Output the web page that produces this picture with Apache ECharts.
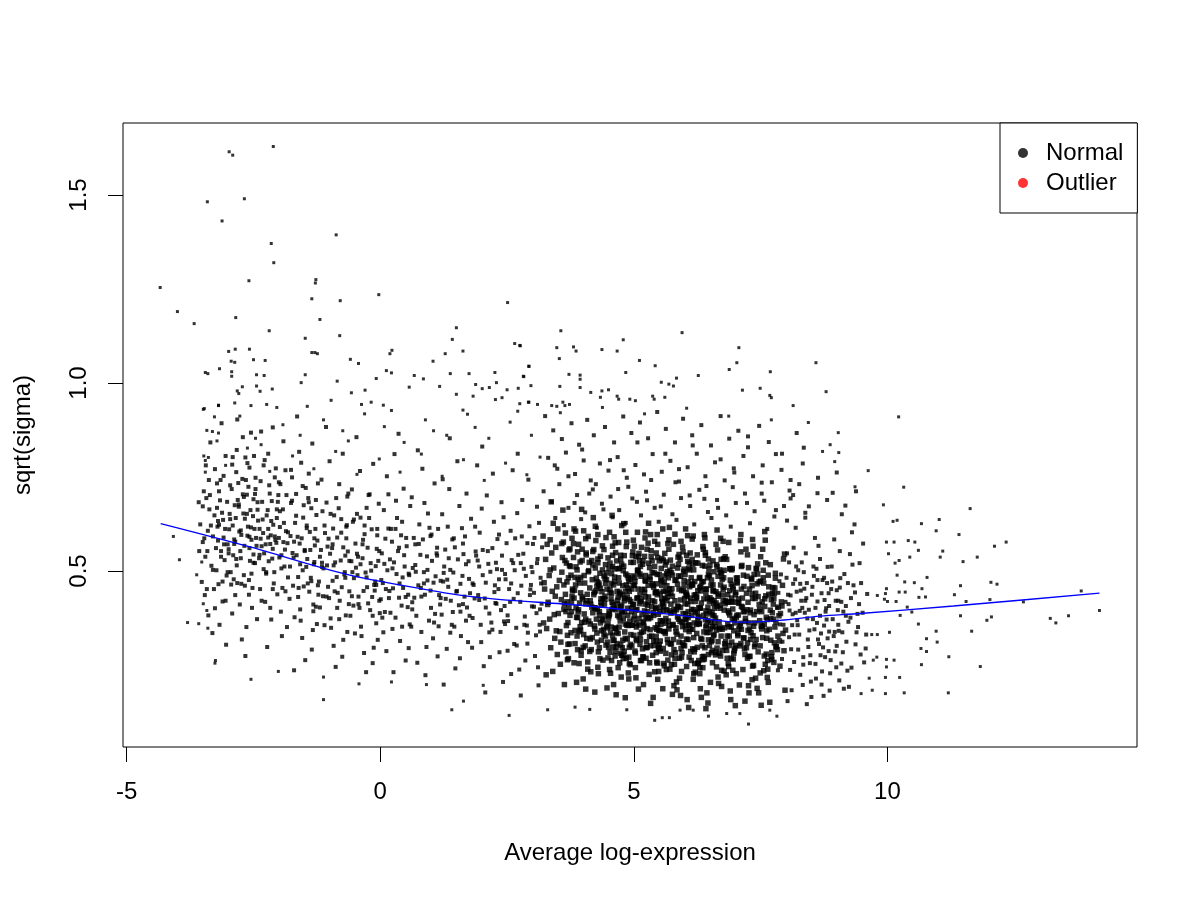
<!DOCTYPE html>
<html>
<head>
<meta charset="utf-8">
<title>sqrt(sigma) vs Average log-expression</title>
<script src="https://cdn.jsdelivr.net/npm/echarts@6/dist/echarts.min.js"></script>
<style>html,body{margin:0;background:#fff}</style>
</head>
<body>
<div id="main" style="width:1200px;height:900px;"></div>
<script>
// axis ticks
var xTicks = [-5, 0, 5, 10];
var yTicks = [0.5, 1.0, 1.5];

// points, grouped by region (x = average log-expression, y = sqrt(sigma))
var highPts = [[-2.11,1.629],[-2.98,1.615],[-2.91,1.606],[-3.41,1.482],[-2.68,1.490],[-3.12,1.431],[-0.87,1.394],[-2.15,1.371],[-2.10,1.320],[-4.34,1.254],[-2.59,1.272],[-1.27,1.275],[-1.28,1.266],[-4.00,1.190],[-3.67,1.158],[-1.35,1.224],[-0.79,1.219],[-0.03,1.235],[2.51,1.214],[-2.85,1.174],[-1.19,1.169],[-2.19,1.139],[-1.48,1.119],[-0.80,1.126],[1.50,1.147],[1.42,1.116],[1.63,1.085],[2.65,1.105],[2.76,1.099],[-2.99,1.084],[-2.86,1.090],[-2.58,1.090],[-1.35,1.081],[-1.29,1.081],[-1.24,1.078],[0.19,1.078],[0.23,1.087],[1.28,1.078],[-2.94,1.058],[-2.87,1.055],[-2.50,1.062],[-2.27,1.060],[-0.59,1.063],[-0.43,1.052],[1.04,1.058],[2.93,1.045],[-3.45,1.028],[-3.40,1.025],[-3.17,1.038],[-2.93,1.030],[-2.93,1.018],
  [-2.44,1.022],[-2.29,1.020],[-2.72,.990],[-2.82,.979],[-2.79,.972],[-2.44,.992],[-2.37,.978],[-2.13,.984],[-1.56,1.001],[-1.48,1.022],[-0.85,1.005],[-0.57,.974],[-0.30,.981],[-0.08,1.012],[0.12,1.033],[0.22,1.027],[0.57,.989],[0.67,1.020],[0.85,1.011],[1.17,.991],[1.38,1.025],[1.75,1.025],[1.88,.996],[2.01,.985],[2.15,.988],[2.26,1.028],[2.29,1.001],[2.50,.982],[2.72,.986],[2.83,1.017],[2.97,.993],[1.83,.965],[1.50,.970],[2.27,.956],[2.40,.961],[-2.87,.947],[-2.55,.940],[-2.24,.943],[-2.04,.935],[-3.19,.940],[-3.47,.932],[-0.97,.954],[-0.37,.943],[-0.18,.949],[0.06,.941],[1.63,.928],[2.93,.949],[3.10,.943],
  [3.56,1.139],[5.95,1.134],[2.75,1.100],[3.48,1.094],[3.81,1.096],[3.86,1.085],[4.37,1.089],[4.67,1.085],[4.79,1.115],[3.53,1.065],[5.11,1.060],[5.42,1.046],[2.93,1.044],[7.07,1.094],[7.03,1.054],[6.88,1.036],[8.59,1.054],[7.69,1.030],[8.79,.977],[6.27,1.020],[5.84,1.013],[5.78,.992],[5.69,.997],[5.54,1.002],[4.84,1.028],[3.72,1.023],[3.94,1.021],[3.94,1.010],[2.82,1.018],[3.54,.991],[3.94,.988],[4.15,.975],[4.37,.979],[4.50,.982],[4.34,.962],[7.14,.981],[7.49,.986],[7.68,.967],[7.71,.961],[8.14,.940],[4.67,.965],[4.70,.957],[4.92,.957],[5.03,.953],[5.37,.965],[5.40,.957],[5.61,.962],[2.75,.945],[2.92,.949],[3.38,.940],[3.48,.938],[3.60,.949],[3.64,.940],[3.73,.943]];

var edgePts = [[-4.08,.592],[-3.96,.530],[-3.62,.490],[-3.80,.363],[-3.58,.360],[-3.40,.348],[-3.26,.255],[-3.25,.262],[-3.49,.413],[-3.42,.395],[-3.52,.524],[-3.45,.794],[-3.45,.763],[-3.48,.806],[-3.39,.802],[-3.42,.874],[-3.19,.867],[-3.49,.930],[-3.27,.910],[-3.19,.941]];

var leftPts = [[-3.55,.624],[-3.48,.712],[-3.41,.553],[-3.52,.471],[-3.37,.664],[-3.44,.781],[-3.30,.592],[-3.58,.683],[-3.33,.514],[-3.46,.436],[-3.22,.733],[-3.27,.648],[-3.39,.382],[-3.24,.561],[-3.50,.577],[-3.35,.842],[-3.28,.452],[-3.43,.694],[-3.21,.618],[-3.31,.335],[-3.57,.553],[-3.26,.771],[-3.40,.607],[-3.23,.502],[-3.36,.702],[-3.12,.655],[-3.08,.571],[-3.15,.742],[-3.03,.488],[-3.18,.623],[-3.05,.806],[-3.11,.419],[-3.14,.538],[-3.02,.684],[-3.17,.357],[-3.09,.753],[-3.06,.612],[-3.19,.465],[-3.01,.571],[-3.13,.893],[-3.04,.304],[-3.16,.688],[-3.07,.529],[-3.10,.636],[-3.20,.581],
  [-2.97,.652],[-2.93,.718],[-2.88,.584],[-2.95,.497],[-2.84,.763],[-2.91,.621],[-2.86,.436],[-2.81,.689],[-2.99,.558],[-2.78,.605],[-2.83,.822],[-2.75,.534],[-2.92,.387],[-2.79,.671],[-2.72,.745],[-2.89,.478],[-2.74,.596],[-2.70,.653],[-2.96,.728],[-2.77,.411],[-2.68,.567],[-2.66,.802],[-2.85,.641],[-2.63,.703],[-2.90,.542],[-2.61,.618],[-2.69,.489],[-2.58,.775],[-2.64,.351],[-2.56,.662],[-2.82,.903],[-2.54,.583],[-2.60,.724],[-2.52,.455],[-2.67,.639],[-2.50,.691],[-2.57,.527],[-2.48,.612],[-2.73,.318],[-2.46,.748],[-2.55,.868],[-2.44,.567],[-2.62,.594],[-2.42,.683],[-2.53,.402],[-2.47,.521],[-2.71,.856],[-2.41,.634],[-2.98,.611],[-2.87,.675],[-2.76,.553],[-2.65,.742],[-2.59,.476],[-2.49,.806],[-2.45,.588],[-2.94,.464],[-2.80,.734],[-2.51,.646],[-2.43,.372],[-2.69,.697],[-2.58,.561],[-2.83,.515],[-2.62,.787],[-2.47,.705],[-2.91,.803],[-2.74,.466],[-2.55,.616],[-2.86,.578],[-2.66,.274],[-2.50,.544],
  [-2.38,.612],[-2.33,.684],[-2.29,.547],[-2.36,.739],[-2.25,.493],[-2.31,.601],[-2.22,.662],[-2.27,.418],[-2.19,.728],[-2.34,.566],[-2.16,.595],[-2.21,.812],[-2.13,.533],[-2.24,.648],[-2.10,.467],[-2.18,.706],[-2.07,.583],[-2.15,.371],[-2.04,.641],[-2.12,.559],[-2.01,.702],[-2.09,.497],[-1.98,.617],[-2.06,.773],[-1.95,.542],[-2.03,.438],[-1.92,.664],[-2.00,.588],[-1.89,.512],[-1.97,.731],[-1.86,.606],[-1.94,.327],[-1.83,.574],[-1.91,.845],[-2.37,.452],[-2.28,.795],[-2.20,.526],[-2.11,.623],[-2.02,.684],[-1.93,.455],[-1.85,.702],[-2.35,.871],[-2.26,.571],[-2.17,.402],[-2.08,.749],[-1.99,.536],[-1.90,.628],[-1.82,.483],[-2.32,.637],[-2.23,.298],[-2.14,.686],[-2.05,.575],[-1.96,.392],[-1.88,.557],[-2.39,.534],[-2.30,.505],[-2.21,.589],[-1.87,.768],[-1.84,.351],[-2.12,.882],
  [-1.77,.593],[-1.52,.642],[-1.31,.518],[-1.66,.705],[-1.43,.467],[-1.24,.581],[-1.71,.536],[-1.58,.398],[-1.36,.667],[-1.49,.553],[-1.28,.612],[-1.62,.484],[-1.41,.759],[-1.79,.426],[-1.55,.587],[-1.33,.343],[-1.68,.628],[-1.46,.511],[-1.21,.472],[-1.74,.687],[-1.38,.556],[-1.60,.817],[-1.27,.405],[-1.51,.675],[-1.65,.542],[-1.35,.291],[-1.45,.614],[-1.72,.461],[-1.23,.733],[-1.57,.368],[-1.30,.524],[-1.63,.591],[-1.40,.445],[-1.76,.769],[-1.48,.263],[-1.26,.649],[-1.53,.502],[-1.69,.377],[-1.34,.839],[-1.59,.573],[-1.42,.694],[-1.22,.437],[-1.64,.911],[-1.37,.482],[-1.54,.322],[-1.29,.568],[-1.73,.548],[-1.47,.721],[-1.25,.359],[-1.61,.455],[-1.39,.604],[-1.56,.788],[-1.32,.411],[-1.70,.236],[-1.44,.532],
  [-1.17,.556],[-0.93,.613],[-0.71,.491],[-1.06,.682],[-0.84,.442],[-0.64,.552],[-1.12,.507],[-0.98,.374],[-0.77,.638],[-0.89,.523],[-0.67,.587],[-1.03,.458],[-0.81,.731],[-1.19,.403],[-0.95,.561],[-0.73,.317],[-1.09,.601],[-0.86,.484],[-0.61,.446],[-1.14,.659],[-0.78,.528],[-1.00,.792],[-0.68,.382],[-0.91,.648],[-1.05,.515],[-0.75,.272],[-0.85,.589],[-1.13,.433],[-0.63,.706],[-0.97,.349],[-0.70,.497],[-1.04,.565],[-0.80,.421],[-1.16,.743],[-0.88,.245],[-0.66,.622],[-0.94,.474],[-1.10,.356],[-0.74,.812],[-0.99,.546],[-0.82,.667],[-0.62,.412],[-1.07,.883],[-0.76,.457],[-0.92,.301],[-0.69,.541],[-1.15,.522],[-0.87,.694],[-0.65,.338],[-1.01,.428],
  [-0.57,.526],[-0.34,.583],[-0.12,.463],[-0.46,.652],[-0.24,.414],[-0.04,.527],[-0.52,.481],[-0.38,.352],[-0.17,.611],[-0.29,.496],[-0.07,.559],[-0.43,.432],[-0.21,.704],[-0.59,.381],[-0.35,.534],[-0.13,.296],[-0.49,.573],[-0.26,.457],[-0.02,.421],[-0.54,.631],[-0.18,.501],[-0.40,.766],[-0.08,.361],[-0.31,.621],[-0.45,.489],[-0.15,.255],[-0.25,.562],[-0.53,.408],[-0.03,.679],[-0.37,.327],[-0.10,.472],[-0.44,.538],[-0.20,.396],[-0.56,.717],[-0.28,.231],[-0.06,.595],[-0.33,.447],[-0.50,.334],[-0.14,.785],[-0.39,.518],[-0.22,.641],[-0.01,.388],[-0.47,.856],[-0.16,.431],[-0.32,.282],[-0.09,.513],[-0.55,.497],[-0.27,.668],[-0.05,.317],[-0.41,.402],
  [-3.47,.587],[-2.63,.652],[-1.78,.512],[-0.94,.571],[-0.11,.448],[-3.22,.668],[-2.38,.543],[-1.53,.726],[-0.69,.482],[-3.05,.421],[-2.21,.612],[-1.36,.473],[-0.52,.637],[-3.38,.742],[-2.54,.493],[-1.70,.578],[-0.85,.402],[-0.02,.553],[-3.14,.553],[-2.30,.781],[-1.45,.621],[-0.61,.527],[-2.96,.638],[-2.12,.452],[-1.27,.689],[-0.43,.412],[-3.30,.503],[-2.46,.718],[-1.62,.431],[-0.77,.602],[-2.88,.572],[-2.04,.664],[-1.19,.538],[-0.35,.571],[-3.42,.452],[-2.58,.591],[-1.74,.749],[-0.90,.446],[-0.06,.612],[-3.18,.712],[-2.34,.421],[-1.49,.556],[-0.65,.698],[-3.01,.497],[-2.17,.572],[-1.32,.393],[-0.48,.509],[-2.79,.677],[-1.95,.507],[-1.10,.621],[-0.27,.483],[-3.34,.621],[-2.50,.522],[-1.66,.647],[-0.81,.372],[-2.92,.783],[-2.08,.592],[-1.23,.462],[-0.39,.642],[-3.26,.401],[-2.42,.663],[-1.58,.518],[-0.73,.563],[-3.09,.589],[-2.25,.497],[-1.41,.683],[-0.56,.433],[-2.84,.532],[-2.00,.736],[-1.15,.511],[-0.31,.598],[-3.50,.672],[-2.67,.461],[-1.82,.603],[-0.98,.652],[-0.15,.381],[-3.11,.472],[-2.71,.704],[-1.87,.446],[-1.02,.586],[-0.19,.521],[-2.75,.608],[-1.91,.577],[-1.06,.432],[-0.23,.702],[-3.45,.538],[-2.59,.437],[-1.76,.681],[-0.92,.515],[-0.08,.463],[-2.99,.547],[-2.15,.633],[-1.30,.587],[-0.46,.546],[-3.20,.633],[-2.36,.586],[-1.51,.459],[-0.67,.618],[-2.82,.468],[-1.98,.659]];

var midPts = [[0.03,.547],[0.21,.612],[0.44,.483],[0.09,.391],[0.52,.566],[0.16,.704],[0.37,.429],[0.27,.523],[0.58,.358],[0.05,.468],[0.33,.641],[0.48,.512],[0.12,.287],[0.25,.454],[0.41,.595],[0.55,.437],[0.19,.531],[0.07,.662],[0.30,.376],[0.46,.719],[0.14,.502],[0.39,.314],[0.23,.578],[0.57,.489],[0.01,.425],[0.35,.553],[0.50,.262],[0.18,.447],[0.43,.631],[0.10,.586],[0.28,.811],[0.54,.404],[0.32,.492],[0.06,.337],[0.47,.542],[0.20,.389],[0.38,.467],[0.59,.673],[0.13,.752],[0.26,.231],[0.42,.408],[0.51,.588],[0.08,.519],[0.36,.865],[0.24,.346],[0.45,.455],[0.16,.613],[0.56,.295],[0.31,.687],[0.02,.476],
  [0.64,.508],[0.88,.437],[1.12,.562],[0.71,.381],[0.97,.615],[1.05,.469],[0.79,.543],[0.62,.696],[1.18,.411],[0.91,.298],[0.75,.462],[1.02,.527],[0.84,.584],[1.15,.353],[0.67,.429],[0.94,.653],[1.09,.486],[0.81,.338],[0.69,.571],[1.00,.402],[1.14,.612],[0.86,.497],[0.73,.256],[0.99,.448],[1.07,.733],[0.77,.624],[0.63,.417],[0.92,.539],[1.19,.474],[0.83,.772],[1.04,.321],[0.70,.498],[0.96,.368],[1.11,.547],[0.89,.223],[0.66,.588],[1.16,.436],[0.80,.455],[1.01,.597],[0.74,.821],[0.93,.475],[1.08,.386],[0.61,.352],[0.87,.681],[1.13,.273],
  [1.24,.472],[1.53,.531],[1.71,.403],[1.33,.618],[1.46,.352],[1.62,.487],[1.28,.557],[1.77,.441],[1.39,.421],[1.56,.673],[1.21,.384],[1.67,.592],[1.44,.496],[1.31,.293],[1.74,.526],[1.50,.445],[1.36,.718],[1.59,.327],[1.26,.512],[1.69,.368],[1.42,.584],[1.55,.409],[1.79,.639],[1.34,.458],[1.48,.241],[1.64,.545],[1.22,.651],[1.38,.503],[1.58,.466],[1.73,.311],[1.29,.426],[1.52,.792],[1.66,.432],[1.41,.357],[1.61,.614],[1.25,.198],[1.47,.563],[1.75,.479],[1.35,.534],[1.57,.268],[1.70,.706],[1.43,.391],[1.23,.744],[1.63,.412],[1.37,.853],
  [1.84,.463],[2.13,.519],[2.38,.396],[1.96,.602],[2.21,.344],[2.47,.478],[1.89,.541],[2.06,.427],[2.31,.585],[1.99,.311],[2.26,.462],[2.43,.643],[1.82,.375],[2.17,.498],[2.02,.556],[2.35,.284],[1.93,.436],[2.28,.522],[2.10,.701],[2.45,.407],[1.87,.618],[2.19,.363],[2.40,.541],[2.04,.247],[1.95,.512],[2.33,.452],[2.15,.387],[2.49,.574],[1.81,.296],[2.24,.631],[2.08,.469],[2.37,.338],[1.91,.781],[2.29,.413],[2.00,.666],[2.42,.205],[2.12,.553],[1.86,.427],[2.22,.759],[2.46,.492],[1.98,.357],[2.34,.597],[2.07,.177],[2.25,.444],[1.92,.528],[2.39,.683],[2.16,.271],[2.44,.366],[2.01,.831],[2.30,.505],
  [2.54,.452],[2.83,.506],[3.08,.388],[2.66,.587],[2.91,.336],[3.17,.467],[2.59,.529],[2.76,.418],[3.01,.572],[2.69,.302],[2.96,.451],[3.13,.628],[2.52,.367],[2.87,.487],[2.72,.543],[3.05,.274],[2.63,.426],[2.98,.511],[2.80,.689],[3.15,.398],[2.57,.607],[2.89,.355],[3.10,.532],[2.74,.238],[2.65,.502],[3.03,.442],[2.85,.379],[3.19,.563],[2.51,.288],[2.94,.619],[2.78,.461],[3.07,.329],[2.61,.768],[2.99,.406],[2.70,.654],[3.12,.196],[2.82,.546],[2.56,.418],[2.92,.743],[3.16,.482],[2.68,.349],[3.04,.588],[2.77,.169],[2.95,.436],[2.62,.521],[3.09,.671],[2.86,.262],[3.14,.357],[2.71,.812],[3.00,.497],[2.58,.226],[2.90,.307],[3.11,.244],[2.79,.592],[3.18,.413],
  [0.11,.452],[0.93,.503],[1.76,.381],[2.58,.467],[0.37,.562],[1.19,.428],[2.02,.489],[2.84,.357],[0.63,.398],[1.45,.587],[2.27,.415],[3.09,.521],[0.24,.507],[1.06,.363],[1.88,.552],[2.71,.441],[0.50,.431],[1.32,.477],[2.15,.337],[2.97,.463],[0.76,.572],[1.58,.392],[2.40,.503],[0.04,.376],[0.86,.467],[1.69,.518],[2.51,.382],[0.30,.612],[1.12,.541],[1.95,.423],[2.77,.521],[0.56,.493],[1.38,.336],[2.21,.561],[3.03,.405],[0.17,.428],[0.99,.593],[1.82,.467],[2.64,.306],[0.43,.352],[1.25,.495],[2.08,.403],[2.90,.574],[0.69,.516],[1.51,.447],[2.34,.478],[3.15,.339],[0.81,.432],[1.63,.573],[2.46,.359]];

var lowPts = [[-1.12,.158],[-0.42,.200],[1.64,.154],[1.41,.131],[-2.55,.212],[-2.01,.233],[-1.12,.218],[0.22,.205],[0.91,.198],[2.03,.196],[2.54,.116],[3.30,.131],[5.41,.103],[5.56,.110],[5.70,.110],[7.26,.093],[6.47,.114],[6.17,.130],[5.91,.130],[4.86,.131],[4.13,.132],[3.84,.138],[7.82,.114],[7.68,.130],[7.09,.121],[6.83,.121]];

var corePts = [[3.24,.452],[3.51,.387],[3.73,.514],[3.36,.296],[3.62,.463],[3.29,.571],[3.47,.341],[3.68,.418],[3.41,.627],[3.55,.252],[3.77,.392],[3.33,.488],[3.59,.536],[3.22,.362],[3.45,.433],[3.70,.305],[3.38,.548],[3.65,.601],[3.27,.224],[3.53,.475],[3.79,.447],[3.43,.384],[3.60,.662],[3.31,.417],[3.74,.559],[3.49,.278],[3.35,.503],[3.67,.355],[3.57,.424],[3.21,.593],[3.44,.321],[3.71,.482],[3.39,.446],[3.63,.198],[3.26,.531],[3.50,.612],[3.76,.336],[3.34,.372],[3.58,.497],[3.46,.563],[3.69,.264],[3.30,.411],[3.54,.339],[3.78,.587],[3.40,.233],[3.64,.528],[3.23,.469],[3.48,.458],[3.72,.403],[3.37,.684],[3.56,.311],[3.66,.392],[3.28,.347],[3.61,.577],[3.42,.508],
  [3.82,.428],[4.11,.367],[4.33,.494],[3.96,.276],[4.22,.443],[3.89,.551],[4.07,.321],[4.28,.398],[4.01,.607],[4.15,.232],[4.37,.372],[3.93,.468],[4.19,.516],[3.84,.342],[4.05,.413],[4.30,.285],[3.98,.528],[4.25,.581],[3.87,.204],[4.13,.455],[4.39,.427],[4.03,.364],[4.20,.642],[3.91,.397],[4.34,.539],[4.09,.258],[3.95,.483],[4.27,.335],[4.17,.404],[3.81,.573],[4.04,.301],[4.31,.462],[3.99,.426],[4.23,.178],[3.86,.511],[4.10,.592],[4.36,.316],[3.94,.352],[4.18,.477],[4.06,.543],[4.29,.244],[3.90,.391],[4.14,.319],[4.38,.567],[4.00,.213],[4.24,.508],[3.83,.449],[4.08,.438],[4.32,.383],[3.97,.664],[4.16,.291],[4.26,.372],[3.88,.327],[4.21,.557],[4.02,.488],[4.35,.416],[3.92,.254],[4.12,.523],[4.40,.345],[3.85,.606],[4.28,.471],[4.05,.186],[4.19,.389],[3.95,.442],[4.33,.267],[4.10,.498],[3.89,.376],[4.24,.619],[4.01,.331],[4.38,.503],[3.98,.558],[4.14,.421],[4.30,.227],[3.84,.483],[4.22,.354],
  [4.42,.412],[4.71,.351],[4.93,.478],[4.56,.262],[4.82,.427],[4.49,.535],[4.67,.307],[4.88,.382],[4.61,.591],[4.75,.218],[4.97,.356],[4.53,.452],[4.79,.501],[4.44,.327],[4.65,.397],[4.90,.271],[4.58,.512],[4.85,.565],[4.47,.189],[4.73,.439],[4.99,.411],[4.63,.348],[4.80,.626],[4.51,.381],[4.94,.523],[4.69,.243],[4.55,.467],[4.87,.319],[4.77,.388],[4.41,.557],[4.64,.286],[4.91,.446],[4.59,.410],[4.83,.163],[4.46,.495],[4.70,.576],[4.96,.301],[4.54,.336],[4.78,.461],[4.66,.527],[4.89,.229],[4.50,.375],[4.74,.303],[4.98,.551],[4.60,.198],[4.84,.492],[4.43,.433],[4.68,.422],[4.92,.367],[4.57,.648],[4.76,.276],[4.86,.356],[4.48,.311],[4.81,.541],[4.62,.472],[4.95,.401],[4.52,.238],[4.72,.507],[5.00,.329],[4.45,.589],[4.88,.455],[4.65,.171],[4.79,.373],[4.55,.426],[4.93,.251],[4.70,.482],[4.49,.361],[4.84,.603],[4.61,.316],[4.98,.487],[4.58,.542],[4.74,.405],[4.90,.213],[4.44,.467],[4.82,.338],[4.67,.446],[4.53,.284],[4.95,.392],[4.76,.518],[4.47,.349],[4.87,.431],[4.63,.575],[4.91,.297],[4.57,.398],[4.72,.256],[4.99,.462],[4.51,.507],[4.85,.268],[4.69,.334],[4.42,.381],
  [5.37,.421],[5.08,.503],[5.52,.287],[5.19,.366],[5.44,.548],[5.03,.243],[5.28,.462],[5.59,.395],[5.12,.331],[5.33,.597],[5.47,.212],[5.06,.427],[5.24,.378],[5.55,.474],[5.15,.563],[5.40,.302],[5.01,.381],[5.31,.256],[5.50,.527],[5.21,.443],[5.09,.186],[5.42,.349],[5.57,.612],[5.26,.297],[5.14,.486],[5.35,.405],[5.04,.538],[5.46,.437],[5.18,.271],[5.53,.358],[5.29,.521],[5.11,.413],[5.38,.164],[5.58,.294],[5.22,.588],[5.05,.319],[5.45,.466],[5.32,.344],[5.16,.451],[5.49,.233],[5.27,.392],[5.02,.472],[5.41,.579],[5.56,.418],[5.13,.262],[5.36,.496],[5.20,.353],[5.51,.341],[5.07,.603],[5.30,.225],[5.43,.401],[5.17,.518],[5.54,.507],[5.25,.312],[5.10,.374],[5.39,.457],[5.60,.248],[5.23,.431],[5.48,.385],[5.03,.282],[5.34,.554],[5.19,.198],[5.44,.313],[5.58,.446],[5.12,.492],[5.29,.627],[5.52,.368],[5.06,.397],[5.37,.276],[5.21,.539],[5.46,.491],[5.15,.337],[5.33,.148],[5.55,.533],[5.08,.452],[5.41,.232],[5.27,.409],[5.50,.304],[5.01,.566],[5.24,.268],[5.39,.382],[5.57,.187],[5.14,.419],[5.31,.484],[5.47,.571],[5.18,.362],[5.43,.443],[5.04,.216],[5.35,.327],[5.53,.404],[5.22,.475],[5.10,.547],[5.45,.258],[5.28,.574],[5.59,.339],
  [5.84,.397],[6.13,.482],[5.67,.263],[6.02,.344],[5.91,.531],[6.18,.227],[5.73,.441],[6.07,.376],[5.62,.516],[5.96,.309],[6.15,.585],[5.79,.195],[5.88,.405],[6.10,.357],[5.65,.461],[6.04,.542],[5.82,.283],[6.19,.362],[5.71,.239],[5.99,.505],[6.12,.419],[5.76,.172],[5.93,.327],[6.06,.594],[5.63,.374],[5.86,.465],[6.16,.293],[5.69,.558],[6.01,.413],[5.80,.252],[6.09,.339],[5.74,.496],[5.97,.387],[6.20,.472],[5.66,.318],[5.90,.215],[6.03,.443],[5.78,.571],[6.14,.382],[5.61,.427],[5.94,.271],[6.08,.506],[5.83,.349],[5.70,.394],[6.17,.212],[5.87,.537],[6.00,.301],[5.75,.453],[6.11,.548],[5.64,.238],[5.95,.364],[6.05,.158],[5.81,.421],[5.68,.482],[6.19,.436],[5.89,.311],[6.02,.612],[5.77,.356],[6.13,.262],[5.72,.529],[5.98,.448],[5.85,.184],[6.07,.392],[5.62,.334],[6.16,.517],[5.92,.403],[5.79,.291],[6.10,.458],[5.67,.573],[6.04,.246],[5.88,.487],[5.73,.412],[6.18,.323],[5.96,.564],[5.84,.205],[6.01,.371],[5.66,.431],[6.14,.398],[5.90,.268],[5.76,.513],[6.08,.137],[5.70,.355],[5.99,.475],[6.12,.286],[5.81,.598],[5.63,.447],[5.94,.233],[6.06,.526],[5.86,.378],[6.20,.254],[5.74,.306],[6.03,.435],[5.92,.169],[5.65,.493],[6.15,.466],
  [6.44,.386],[6.71,.463],[6.27,.254],[6.58,.331],[6.35,.515],[6.66,.218],[6.23,.428],[6.52,.363],[6.78,.502],[6.40,.296],[6.62,.571],[6.31,.187],[6.49,.392],[6.74,.345],[6.26,.448],[6.56,.527],[6.38,.273],[6.69,.351],[6.21,.231],[6.47,.491],[6.64,.406],[6.33,.164],[6.54,.316],[6.76,.579],[6.29,.361],[6.43,.452],[6.68,.281],[6.25,.543],[6.59,.401],[6.36,.243],[6.72,.327],[6.45,.482],[6.61,.375],[6.32,.459],[6.79,.307],[6.51,.204],[6.24,.431],[6.65,.556],[6.41,.371],[6.57,.414],[6.28,.262],[6.73,.493],[6.48,.337],[6.37,.382],[6.67,.201],[6.22,.522],[6.55,.289],[6.42,.441],[6.77,.533],[6.30,.227],[6.60,.352],[6.46,.149],[6.70,.409],[6.34,.471],[6.53,.424],[6.80,.298],[6.39,.597],[6.63,.343],[6.26,.255],[6.50,.516],[6.75,.436],[6.44,.176],[6.58,.381],[6.32,.321],[6.69,.503],[6.21,.391],[6.47,.278],[6.62,.445],[6.37,.558],[6.78,.234],[6.53,.476],[6.28,.402],[6.66,.312],[6.41,.549],[6.73,.193],[6.24,.358],[6.56,.463],[6.35,.272],[6.71,.587],[6.49,.419],[6.30,.243],[6.64,.295],[6.42,.134],[6.77,.482],[6.55,.256],
  [7.02,.377],[7.28,.452],[6.87,.246],[7.16,.322],[6.93,.503],[7.33,.211],[6.84,.418],[7.09,.354],[7.37,.491],[6.98,.288],[7.21,.558],[6.90,.181],[7.06,.383],[7.31,.336],[6.85,.437],[7.13,.515],[6.96,.266],[7.25,.342],[6.82,.224],[7.04,.482],[7.23,.397],[6.91,.158],[7.11,.307],[7.35,.566],[6.88,.352],[7.01,.443],[7.27,.273],[6.83,.531],[7.18,.392],[6.95,.236],[7.30,.318],[7.03,.471],[7.20,.366],[6.89,.448],[7.38,.299],[7.08,.197],[6.81,.421],[7.24,.543],[6.99,.362],[7.14,.404],[6.86,.254],[7.32,.481],[7.05,.328],[6.94,.372],[7.26,.195],[7.12,.512],[6.97,.281],[7.39,.427],[7.19,.154],[6.92,.465],[7.34,.247],[7.07,.414],[6.84,.327],[7.22,.296],[7.00,.142],[7.29,.389],[6.89,.506],[7.15,.238],[7.36,.353],[6.95,.417],[7.10,.581],[7.27,.176],[6.86,.394],[7.17,.459],[7.02,.227],[7.33,.439],[6.93,.311],[7.24,.268],[7.12,.345],[7.40,.215],
  [7.48,.368],[7.73,.441],[7.56,.235],[7.87,.314],[7.44,.492],[7.65,.204],[7.92,.407],[7.52,.346],[7.79,.481],[7.61,.279],[7.97,.545],[7.46,.176],[7.70,.373],[7.84,.327],[7.58,.426],[7.42,.505],[7.76,.257],[7.94,.334],[7.63,.217],[7.50,.473],[7.89,.387],[7.68,.151],[7.81,.299],[7.54,.558],[7.99,.343],[7.45,.432],[7.72,.265],[7.60,.522],[7.86,.381],[7.49,.229],[7.77,.309],[7.93,.462],[7.57,.357],[7.66,.438],[7.83,.291],[7.43,.188],[7.75,.412],[7.95,.532],[7.53,.353],[7.69,.396],[7.88,.247],[7.47,.471],[7.62,.321],[7.80,.364],[7.98,.183],[7.55,.502],[7.71,.272],[7.91,.418],[7.51,.143],[7.78,.455],[7.64,.239],[7.85,.404],[7.41,.318],[7.96,.288],[7.59,.582],
  [3.62,.398],[4.47,.452],[5.33,.376],[6.21,.419],[7.05,.333],[3.88,.503],[4.74,.281],[5.61,.547],[6.49,.302],[7.33,.461],[4.05,.372],[4.91,.424],[5.78,.318],[6.66,.486],[7.52,.392],[3.71,.267],[4.58,.566],[5.45,.345],[6.32,.447],[7.19,.278],[4.26,.481],[5.12,.305],[5.99,.462],[6.87,.389],[7.71,.424],[3.95,.343],[4.82,.392],[5.69,.583],[6.55,.352],[7.41,.507],[4.13,.286],[4.99,.523],[5.86,.407],[6.73,.236],[7.62,.341],[3.79,.452],[4.66,.337],[5.52,.441],[6.40,.513],[7.27,.362],[4.36,.409],[5.23,.488],[6.09,.271],[6.96,.452],[7.80,.298],[3.67,.521],[4.54,.228],[5.41,.512],[6.28,.378],[7.14,.428],[4.19,.552],[5.06,.361],[5.93,.294],[6.80,.538],[7.66,.458],[3.84,.307],[4.71,.468],[5.58,.254],[6.45,.427],[7.36,.249],[4.41,.331],[5.28,.417],[6.15,.531],[7.01,.302],[7.75,.372],[3.98,.431],[4.86,.577],[5.73,.388],[6.61,.277],[7.47,.411],[4.09,.239],[4.96,.452],[5.83,.476],[6.70,.401],[7.57,.274],[3.74,.382],[4.61,.401],[5.48,.298],[6.36,.565],[7.23,.486],[4.31,.468],[5.18,.272],[6.04,.438],[6.92,.351],[7.69,.517],[3.91,.571],[4.78,.316],[5.65,.421],[6.52,.462],[7.39,.305],[4.23,.346],[5.09,.539],[5.96,.352],[6.84,.268],[7.60,.434],[3.65,.438],[4.52,.386],[5.38,.462],[6.25,.297],[7.11,.551],
  [4.44,.517],[5.31,.326],[6.18,.397],[7.04,.468],[7.78,.351],[3.82,.256],[4.69,.431],[5.56,.367],[6.43,.356],[7.30,.396],[4.15,.412],[5.02,.287],[5.89,.544],[6.76,.421],[7.54,.323],[3.76,.489],[4.63,.274],[5.50,.491],[6.38,.338],[7.25,.417],[4.34,.362],[5.21,.451],[6.07,.318],[6.94,.507],[7.73,.389],[3.93,.415],[4.80,.513],[5.67,.309],[6.54,.389],[7.43,.466],[4.03,.468],[4.89,.355],[5.76,.433],[6.63,.245],[7.50,.538],[3.69,.329],[4.56,.493],[5.43,.402],[6.30,.483],[7.17,.322],[4.28,.311],[5.14,.425],[6.01,.491],[6.89,.383],[7.64,.262],[3.86,.402],[4.73,.367],[5.60,.471],[6.47,.317],[7.34,.427],[4.17,.528],[5.04,.396],[5.91,.366],[6.78,.457],[7.58,.406],[3.72,.556],[4.59,.315],[5.46,.255],[6.33,.415],[7.20,.374],[4.39,.263],[5.26,.558],[6.12,.345],[6.99,.295],[7.77,.441],[3.97,.363],[4.84,.446],[5.71,.502],[6.58,.498],[7.45,.285],[4.07,.421],[4.94,.331],[5.81,.268],[6.68,.365],[7.55,.482],[3.77,.418],[4.64,.549],[5.51,.392],[6.39,.266],[7.26,.509],[4.32,.392],[5.19,.339],[6.06,.412],[6.93,.428],[7.70,.316],[3.90,.478],[4.77,.296],[5.64,.524],[6.51,.346],[7.38,.362],[4.21,.437],[5.07,.501],[5.94,.448],[6.81,.312],[7.61,.377],[3.66,.285],[4.53,.442],[5.39,.314],[6.26,.521],[7.12,.406],
  [4.45,.303],[5.32,.478],[6.19,.285],[7.06,.426],[7.79,.494],[3.81,.536],[4.68,.382],[5.55,.427],[6.42,.394],[7.29,.273],[4.11,.501],[4.98,.411],[5.85,.332],[6.72,.531],[7.51,.354],[3.73,.306],[4.60,.463],[5.47,.536],[6.35,.301],[7.22,.441],[4.37,.445],[5.24,.296],[6.10,.503],[6.97,.341],[7.74,.456],[3.94,.524],[4.81,.421],[5.68,.367],[6.56,.448],[7.42,.392],[4.00,.297],[4.87,.488],[5.74,.277],[6.62,.415],[7.49,.301],[3.68,.471],[4.55,.351],[5.42,.442],[6.29,.359],[7.16,.489],[4.29,.532],[5.16,.384],[6.03,.372],[6.90,.476],[7.67,.345],[3.87,.377],[4.74,.531],[5.61,.339],[6.48,.505],[7.35,.328],[4.14,.359],[5.01,.462],[5.88,.518],[6.75,.289],[7.56,.468],[3.78,.432],[4.65,.298],[5.53,.477],[6.41,.452],[7.28,.346],[4.43,.481],[5.29,.373],[6.16,.463],[7.03,.382],[7.72,.283],[3.96,.288],[4.83,.359],[5.70,.452],[6.57,.328],[7.44,.519],[4.06,.548],[4.93,.305],[5.80,.391],[6.67,.439],[7.53,.418],[3.70,.363],[4.57,.417],[5.44,.283],[6.31,.401],[7.18,.293],[4.24,.402],[5.11,.527],[5.98,.303],[6.86,.417],[7.63,.371],[3.85,.463],[4.72,.444],[5.59,.406],[6.46,.368],[7.32,.477],[4.18,.323],[5.05,.351],[5.92,.486],[6.79,.349],[7.59,.252],[3.75,.512],[4.62,.506],[5.49,.342],[6.37,.472],[7.24,.309],
  [4.35,.426],[5.22,.412],[6.08,.356],[6.95,.399],[7.76,.427],[3.92,.339],[4.79,.276],[5.66,.498],[6.53,.283],[7.40,.441],[4.02,.386],[4.90,.472],[5.77,.358],[6.64,.512],[7.48,.397],[3.63,.412],[4.50,.297],[5.36,.527],[6.24,.334],[7.10,.361],[4.27,.459],[5.13,.318],[6.00,.427],[6.88,.302],[7.65,.489],[3.89,.291],[4.76,.409],[5.63,.281],[6.50,.429],[7.37,.384],
  [3.35,.583],[3.82,.612],[4.29,.597],[4.76,.621],[5.23,.604],[5.70,.616],[6.17,.593],[6.64,.609],[7.11,.597],[7.58,.605],[3.58,.573],[4.05,.586],[4.52,.603],[4.99,.582],[5.46,.597],[5.93,.579],[6.40,.588],[6.87,.576],[7.34,.584],
  [4.25,.447],[5.62,.361],[6.93,.419],[4.81,.287],[6.18,.503],[5.07,.429],[6.44,.336],[4.53,.521],[5.89,.452],[7.16,.392],[4.39,.368],[5.76,.489],[6.71,.274],[5.21,.394],[6.57,.447],[4.67,.412],[6.04,.319],[5.34,.538],[7.02,.481],[4.96,.356],[6.31,.402],[5.49,.293],[4.32,.296],[6.85,.359],[5.68,.441],[4.74,.542],[6.12,.428],[5.15,.262],[6.63,.517],[4.46,.477],[5.83,.338],[7.09,.301],[5.41,.418],[6.26,.372],[4.88,.401],[6.49,.488],[5.26,.347],[4.58,.329],[5.97,.551],[6.78,.396],
  [4.29,.522],[5.55,.462],[6.36,.264],[5.02,.483],[6.95,.459],[4.71,.378],[6.07,.471],[5.44,.326],[6.66,.433],[4.91,.254],[5.79,.398],[6.53,.312],[4.43,.425],[5.31,.509],[6.88,.327],[5.12,.438],[6.22,.437],[4.62,.484],[5.95,.283],[6.41,.542],[4.85,.463],[5.72,.306],[7.12,.452],[5.38,.389],[6.16,.345],[4.51,.392],[6.74,.478],[5.23,.473],[5.86,.508],[4.36,.341],[6.59,.365],[5.05,.315],[6.02,.386],[4.78,.436],[7.05,.417],[5.58,.529],[6.29,.481],[4.97,.541],[6.83,.289],[5.47,.357],
  [4.41,.487],[5.92,.423],[6.46,.404],[5.17,.293],[6.69,.346],[4.64,.348],[6.09,.521],[5.36,.466],[6.98,.372],[4.83,.321],[5.65,.397],[6.34,.318],[4.49,.269],[5.29,.431],[6.76,.451],[5.08,.497],[6.20,.292],[4.69,.506],[5.81,.475],[6.55,.383],[4.22,.402],[5.52,.314],[6.90,.506],[5.00,.372],[6.38,.426],[4.56,.441],[5.74,.251],[6.14,.462],[5.18,.527],[6.62,.284],[4.94,.419],[5.61,.487],[7.07,.346],[5.33,.301],[6.01,.356],[4.76,.393],[6.47,.532],[5.45,.445],[6.80,.413],[4.34,.454],
  [5.88,.372],[6.25,.388],[4.60,.298],[5.10,.356],[6.71,.497],[5.57,.413],[6.05,.433],[4.89,.482],[6.92,.268],[5.27,.376],[4.47,.353],[5.98,.499],[6.42,.351],[5.13,.512],[6.58,.421],[4.79,.267],[5.69,.346],[6.30,.456],[5.40,.495],[7.00,.437]];

var coreUpperPts = [[3.25,.912],[3.41,.874],[3.58,.851],[3.77,.893],[3.92,.836],[4.08,.902],[4.21,.861],[4.43,.883],[4.61,.842],[4.79,.911],[4.95,.867],[5.12,.895],[5.28,.853],[5.46,.923],[5.63,.878],[5.81,.842],[5.97,.905],[6.15,.861],[6.33,.888],[6.52,.834],[6.71,.912],[6.88,.852],[7.06,.873],[7.25,.829],[7.47,.886],[7.66,.843],[7.92,.812],[8.21,.867],
  [3.31,.801],[3.49,.772],[3.66,.815],[3.84,.758],[4.01,.794],[4.15,.741],[4.33,.786],[4.50,.767],[4.68,.803],[4.86,.748],[5.03,.782],[5.20,.757],[5.37,.811],[5.55,.764],[5.72,.793],[5.89,.738],[6.06,.776],[6.24,.812],[6.41,.752],[6.60,.789],[6.79,.741],[6.97,.773],[7.16,.806],[7.35,.752],[7.54,.781],[7.72,.736],[7.91,.769],[8.09,.742],[8.33,.786],
  [3.22,.712],[3.38,.684],[3.53,.731],[3.71,.668],[3.88,.702],[4.04,.656],[4.19,.717],[4.37,.679],[4.54,.698],[4.71,.662],[4.89,.724],[5.06,.684],[5.24,.711],[5.41,.668],[5.59,.703],[5.76,.651],[5.93,.694],[6.11,.673],[6.29,.716],[6.46,.657],[6.64,.689],[6.82,.648],[7.01,.681],[7.19,.706],[7.38,.659],[7.57,.687],[7.77,.645],[7.96,.673],[8.14,.702],[8.38,.655],
  [3.45,.641],[3.62,.622],[3.96,.638],[4.27,.615],[4.58,.643],[4.84,.628],[5.14,.648],[5.49,.631],[5.84,.636],[6.19,.624],[6.53,.641],[6.91,.618],[7.29,.627],[7.63,.612],[8.02,.634],
  [3.44,.781],[3.98,.823],[4.53,.795],[5.07,.842],[5.62,.812],[6.16,.834],[6.71,.797],[7.25,.858],[7.80,.811],[8.35,.828],[3.71,.752],[4.25,.731],[4.80,.768],[5.34,.742],[5.89,.771],[6.43,.726],[6.98,.762],[7.52,.735],[8.07,.714],[8.62,.707],
  [3.83,.681],[4.40,.664],[4.97,.693],[5.53,.672],[6.10,.701],[6.66,.668],[7.23,.681],[7.80,.662],[4.12,.706],[4.69,.718],[5.26,.688],[5.82,.736],[6.39,.692],[6.95,.723],[7.52,.706]];

var upperBandPts = [[-3.31,.871],[-2.77,.912],[-2.35,.836],[-1.92,.889],[-1.58,.861],[-1.12,.902],[-0.74,.873],[-0.31,.918],[0.08,.884],[0.47,.842],[0.89,.902],[1.31,.861],[1.72,.917],[2.14,.853],[2.56,.896],[2.98,.861],
  [-3.05,.781],[-2.62,.827],[-2.18,.765],[-1.73,.806],[-1.31,.772],[-0.88,.818],[-0.46,.757],[-0.02,.798],[0.39,.763],[0.81,.811],[1.22,.752],[1.64,.796],[2.05,.741],[2.47,.787],[2.89,.756],[3.15,.803],
  [-3.22,.846],[-2.46,.853],[-1.44,.938],[-0.63,.846],[0.22,.927],[1.05,.873],[1.87,.882],[2.71,.925],[3.55,.921],[4.38,.935],[5.21,.918],[6.04,.933],[6.87,.912],[7.71,.902],[8.44,.895]];

var tailPts = [[8.05,.412],[8.12,.356],[8.18,.478],[8.24,.291],[8.31,.523],[8.08,.237],[8.37,.389],[8.15,.562],[8.43,.318],[8.21,.445],[8.49,.206],[8.27,.394],[8.55,.487],[8.34,.271],[8.02,.547],[8.61,.362],[8.40,.428],[8.11,.183],[8.67,.532],[8.46,.342],[8.19,.615],[8.73,.297],[8.52,.458],[8.28,.224],[8.79,.401],[8.58,.253],[8.35,.497],[8.85,.339],[8.64,.567],[8.06,.324],[8.91,.472],[8.70,.198],[8.42,.374],[8.97,.286],[8.76,.423],[8.14,.466],[9.03,.357],[8.82,.511],[8.50,.165],[9.09,.418],[8.88,.263],[8.23,.356],[9.15,.492],[8.94,.327],[8.57,.588],[9.21,.235],[9.00,.449],[8.30,.421],[9.27,.376],[9.06,.553],[8.65,.306],[9.33,.462],[9.12,.284],[8.38,.642],[9.39,.337],[9.18,.407],[8.72,.476],[9.45,.521],[9.24,.192],[8.47,.255],[9.51,.389],[9.30,.603],[8.80,.371],[9.57,.294],[9.36,.443],[8.54,.512],[9.42,.351],[8.87,.228],[9.48,.468],[8.62,.419],[9.54,.257],[8.95,.584],[8.69,.334],[9.02,.396],[8.77,.271],[9.10,.651],[8.84,.441],[9.19,.312],[8.92,.708],[9.26,.545],[8.99,.244],[9.35,.624],[9.07,.481],[9.44,.412],[9.14,.187],[9.52,.573],[9.23,.365],[9.60,.439],[8.09,.693],[8.26,.731],[8.45,.672],[8.63,.748],[8.81,.689],[9.00,.762],[9.17,.674],[9.38,.712],[8.16,.258],[8.33,.197],[8.59,.214],[8.86,.182],[9.05,.209],[9.29,.243],[9.47,.278],[9.58,.331],[8.03,.154],[8.41,.146],[8.74,.168],
  [7.85,.442],[8.13,.385],[8.36,.453],[8.58,.402],[8.81,.468],[9.04,.341],[9.28,.428],[7.92,.266],[8.20,.512],[8.44,.298],[8.67,.381],[8.90,.512],[9.13,.392],[9.37,.305],[8.01,.482],[8.26,.331],[8.51,.437],[8.75,.355],[8.98,.421],[9.22,.468],[7.88,.358],[8.39,.547],[8.84,.287],[9.31,.517],[8.07,.395],[8.62,.476],[9.09,.254],[8.29,.448],[8.71,.233],[9.41,.386],
  [7.82,.402],[8.04,.437],[8.22,.369],[8.41,.468],[8.63,.318],[8.85,.407],[9.06,.456],[7.90,.491],[8.10,.292],[8.32,.402],[8.53,.372],[8.75,.482],[8.96,.338],[9.18,.381],[7.84,.236],[8.06,.523],[8.28,.466],[8.48,.276],[8.70,.441],[8.92,.372],[7.95,.357],[8.17,.331],[8.38,.421],[8.60,.506],[8.82,.321],[9.03,.421],[7.87,.473],[8.09,.435],[8.34,.251],[8.56,.345],[8.78,.392],[9.00,.301],[7.93,.312],[8.19,.389],[8.45,.397],[8.68,.276],[8.89,.452],[9.11,.337],[7.99,.418],[8.24,.502]];

var farRightPts = [[11.63,.666],[11.41,.597],[12.11,.566],[12.34,.577],[11.77,.537],[11.49,.525],[11.04,.537],[11.09,.553],[10.96,.607],[11.02,.637],[10.67,.626],[12.04,.470],[12.16,.465],[11.44,.461],[11.32,.437],[11.55,.419],[12.02,.424],[12.68,.418],[13.82,.447],[14.18,.395],[13.57,.381],[13.21,.374],[13.32,.362],[12.05,.378],[11.96,.369],[11.44,.381],[11.66,.340],[10.96,.340],[10.98,.311],[10.77,.320],[10.61,.359],[11.21,.272],[11.83,.246],[11.20,.176],[10.67,.251],[10.77,.286],[10.66,.294],[10.22,.910],[10.32,.723],[9.92,.676],[9.62,.767],[9.36,.724],[9.03,.868],[8.87,.836],[9.04,.815],[8.72,.818],[8.96,.791],[10.33,.176],[9.96,.174],[9.70,.183],[9.48,.174],[10.24,.217],[9.96,.217],[9.64,.215],[10.78,.483],[10.53,.469],[10.23,.444],[10.35,.444],[10.19,.489],[10.68,.453],[10.75,.431],[10.62,.430],[10.39,.404],[10.48,.391],[10.25,.382],[10.04,.337],[9.80,.331],[9.69,.331],[10.13,.263],[9.98,.265],[9.98,.245],[9.79,.271],[9.72,.263],[10.61,.555],[10.44,.537],[10.54,.577],[10.41,.581],[10.19,.635],[10.11,.632],[9.98,.577],[10.13,.577],[10.02,.546],[10.23,.528],[10.15,.521],[10.34,.471],[9.98,.453],[9.96,.440],[9.94,.425],[10.00,.419],[10.17,.419],[9.80,.435]];

// no point was flagged as outlier in the picture
var outlierPts = [];

// lowess trend
var trendX = [-4.33, -2.57, -0.60, 1.37, 1.97, 2.56, 3.94, 5.91, 7.09, 7.88, 8.67, 9.46, 11.30, 14.18];
var trendY = [0.626, 0.564, 0.489, 0.440, 0.429, 0.422, 0.409, 0.382, 0.364, 0.369, 0.380, 0.387, 0.407, 0.441];

var FONT = '"Liberation Sans", Arial, Helvetica, sans-serif';

var sparsePts = [].concat(highPts, edgePts, lowPts, upperBandPts, farRightPts);
var bodyPts = [].concat(leftPts, midPts, coreUpperPts, tailPts);
var trend = trendX.map(function (x, i) { return [x, trendY[i]]; });

function dots(data, size) {
    return {
        name: 'Normal', type: 'scatter', symbol: 'rect', symbolSize: size,
        itemStyle: { color: '#000' }, silent: true, data: data
    };
}

var chart = echarts.init(document.getElementById('main'));
chart.setOption({
    animation: false,
    backgroundColor: '#fff',
    textStyle: { fontFamily: FONT },
    grid: {
        left: 123, right: 63, top: 123, bottom: 153,
        show: true, borderColor: '#000', borderWidth: 1, backgroundColor: 'transparent'
    },
    legend: {
        left: 1000, top: 123,
        orient: 'vertical',
        backgroundColor: '#fff',
        borderColor: '#000', borderWidth: 1, borderRadius: 0,
        padding: [18, 14, 18, 18],
        itemWidth: 36, itemHeight: 10, itemGap: 6,
        textStyle: { fontFamily: FONT, fontSize: 24, color: '#000' },
        data: [
            { name: 'Normal', icon: 'circle', itemStyle: { color: '#000' } },
            { name: 'Outlier', icon: 'circle', itemStyle: { color: '#FF0000' } }
        ]
    },
    xAxis: {
        type: 'value',
        min: -5.073, max: 14.92,
        name: 'Average log-expression',
        nameLocation: 'middle', nameGap: 94,
        nameTextStyle: { fontFamily: FONT, fontSize: 24, color: '#000' },
        axisLine: { show: false, onZero: false },
        splitLine: { show: false },
        axisTick: { show: true, inside: false, length: 15, customValues: xTicks, lineStyle: { color: '#000' } },
        axisLabel: { customValues: xTicks, margin: 33, fontFamily: FONT, fontSize: 24, color: '#000' }
    },
    yAxis: {
        type: 'value',
        min: 0.032, max: 1.6915,
        name: 'sqrt(sigma)',
        nameLocation: 'middle', nameGap: 88,
        nameTextStyle: { fontFamily: FONT, fontSize: 24, color: '#000' },
        axisLine: { show: false, onZero: false },
        splitLine: { show: false },
        axisTick: { show: true, inside: false, length: 15, customValues: yTicks, lineStyle: { color: '#000' } },
        axisLabel: {
            customValues: yTicks, rotate: 90, margin: 32,
            fontFamily: FONT, fontSize: 24, color: '#000',
            formatter: function (v) { return v.toFixed(1); }
        }
    },
    series: [
        dots(sparsePts, 3),
        dots(bodyPts, 4),
        dots(corePts, 5.5),
        {
            name: 'Outlier', type: 'scatter', symbol: 'rect', symbolSize: 3,
            itemStyle: { color: '#FF0000' }, silent: true, data: outlierPts
        },
        {
            name: 'trend', type: 'line', data: trend, smooth: 0.3,
            showSymbol: false, silent: true, z: 5,
            lineStyle: { color: '#0000FF', width: 1.3 }
        }
    ]
});
</script>
</body>
</html>
